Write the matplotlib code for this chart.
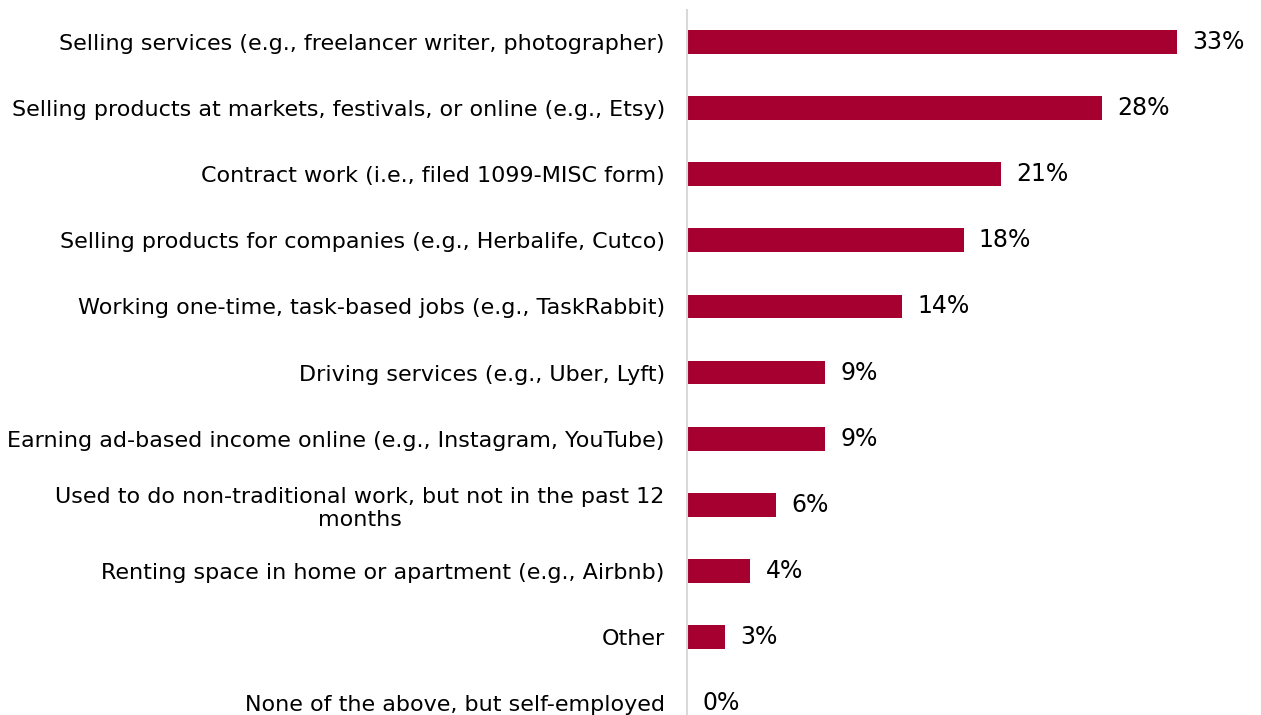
import numpy as np
import matplotlib.pyplot as plt
import matplotlib

matplotlib.rcParams.update({'font.size': 16, 'font.family': ['DejaVu Sans']})

# categories (top to bottom)
labels = [
    'Selling services (e.g., freelancer writer, photographer)',
    'Selling products at markets, festivals, or online (e.g., Etsy)',
    'Contract work (i.e., filed 1099-MISC form)',
    'Selling products for companies (e.g., Herbalife, Cutco)',
    'Working one-time, task-based jobs (e.g., TaskRabbit)',
    'Driving services (e.g., Uber, Lyft)',
    'Earning ad-based income online (e.g., Instagram, YouTube)',
    'Used to do non-traditional work, but not in the past 12\nmonths',
    'Renting space in home or apartment (e.g., Airbnb)',
    'Other',
    'None of the above, but self-employed',
]
# bar lengths (percent)
values = [32.6, 27.6, 20.9, 18.4, 14.3, 9.2, 9.2, 5.9, 4.2, 2.5, 0]
value_labels = ['33%', '28%', '21%', '18%', '14%', '9%', '9%', '6%', '4%', '3%', '0%']

fig = plt.figure(figsize=(12.61, 7.15), dpi=100)
ax = fig.add_axes([0.5448, 0.0, 0.447, 0.986])

y = np.arange(len(labels))
ax.barh(y, values, height=0.36, color='#A50030')

for yi, v, s in zip(y, values, value_labels):
    ax.annotate(s, (v, yi), xytext=(11, 0), textcoords='offset points',
                va='center', ha='left', color='black', fontsize=17)

ax.set_yticks(y)
ax.set_yticklabels(labels)
for t in ax.get_yticklabels():
    t.set_multialignment('center')
ax.tick_params(axis='y', length=0, pad=16)
ax.set_xticks([])
ax.set_xlim(0, 37.5)
ax.set_ylim(10.18, -0.484)

for s in ['top', 'right', 'bottom']:
    ax.spines[s].set_visible(False)
ax.spines['left'].set_color('#D9D9D9')
ax.spines['left'].set_linewidth(1.5)

plt.savefig('out.png', dpi=100)
